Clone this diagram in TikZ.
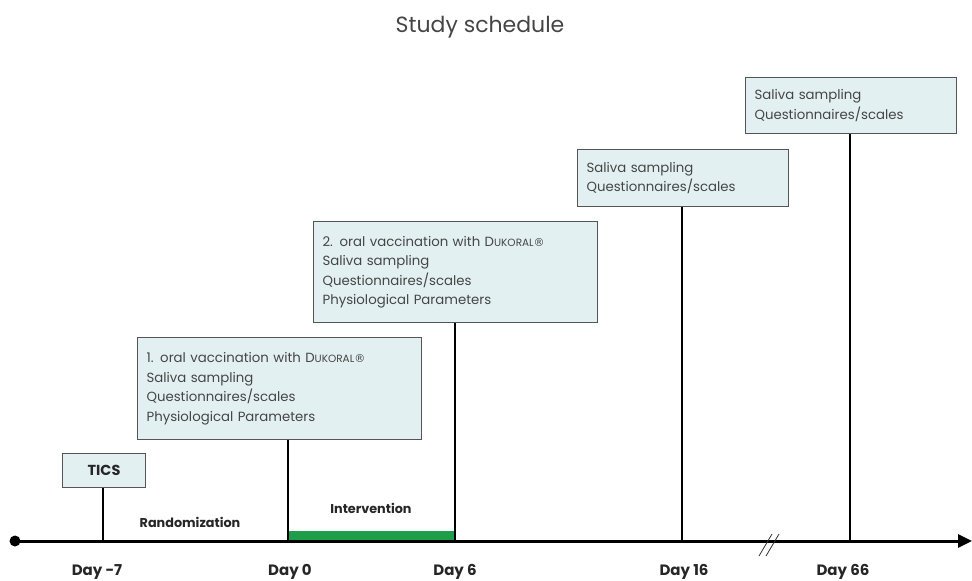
\documentclass[tikz,border=0pt]{standalone}
\usepackage{fontspec}
\setmainfont{Poppins}
\newfontfamily\regfont{DejaVu Sans}
\usetikzlibrary{arrows.meta}
\definecolor{boxfill}{HTML}{E3F0F2}
\definecolor{boxline}{HTML}{555555}
\definecolor{txt}{HTML}{454545}
\definecolor{grn}{HTML}{1E9E4A}
\newcommand{\dukoral}{D{\fontsize{10.5}{10}\selectfont UKORAL}{\regfont\fontsize{11}{10}\selectfont ®}}
\begin{document}
\begin{tikzpicture}[x=1pt,y=-1pt,
  infobox/.style={draw=boxline, line width=1.1pt, fill=boxfill, text=txt,
    font=\fontsize{13.3}{19.5}\selectfont, align=left, anchor=north west,
    inner xsep=9pt, inner ysep=0pt},
  tickline/.style={line width=1.4pt, black},
  daylabel/.style={font=\fontsize{15}{17}\selectfont\bfseries, text=black!85},
  phase/.style={font=\fontsize{12.8}{14}\selectfont\bfseries, text=black!85}]
\useasboundingbox (0,0) rectangle (972,581);

% title
\node[font=\fontsize{22}{24}\selectfont, text=txt] (title) at (480,27) {Study schedule};

% axis coordinates
\coordinate (start) at (15,541);
\coordinate (tip) at (972,541);
\coordinate (dm7) at (103,541);
\coordinate (d0) at (288,541);
\coordinate (d6) at (455,541);
\coordinate (d16) at (682,541);
\coordinate (d66) at (850,541);
\coordinate (gtop) at (455,531);

% boxes
\node[infobox, minimum width=83pt, minimum height=34pt, align=center,
  font=\fontsize{14.5}{16}\selectfont\bfseries, text=black!85] (tics) at (62,453) {TICS};
\node[infobox, text width=266pt, minimum height=102pt] (b1) at (137,337)
  {1. oral vaccination with \dukoral\\Saliva sampling\\Questionnaires/scales\\Physiological Parameters};
\node[infobox, text width=266pt, minimum height=101pt] (b2) at (313,221)
  {2. oral vaccination with \dukoral\\Saliva sampling\\Questionnaires/scales\\Physiological Parameters};
\node[infobox, text width=193pt, minimum height=57pt] (b3) at (577,149)
  {Saliva sampling\\Questionnaires/scales};
\node[infobox, text width=193pt, minimum height=56pt] (b4) at (745,77)
  {Saliva sampling\\Questionnaires/scales};

% green intervention bar
\fill[grn] (d0) rectangle (gtop);

% ticks
\draw[tickline] (tics.south -| dm7) -- (dm7);
\draw[tickline] (b1.south -| d0) -- (d0);
\draw[tickline] (b2.south -| d6) -- (d6);
\draw[tickline] (b3.south -| d16) -- (d16);
\draw[tickline] (b4.south -| d66) -- (d66);

% axis
\draw[line width=3pt, -{Triangle[length=14pt,width=13pt]}] (start) -- (tip);
\fill (start) circle (5.5pt);

% break mark
\coordinate (br1a) at (759,556); \coordinate (br1b) at (772,534);
\coordinate (br2a) at (766,556); \coordinate (br2b) at (779,534);
\draw[line width=0.8pt, black!80] (br1a) -- (br1b);
\draw[line width=0.8pt, black!80] (br2a) -- (br2b);

% phase labels
\node[phase] (rand) at (190,522) {Randomization};
\node[phase] (interv) at (371,508) {Intervention};

% day labels
\node[daylabel] (lm7) at (97,572) {Day -7};
\node[daylabel] (l0) at (290,572) {Day 0};
\node[daylabel] (l6) at (455,572) {Day 6};
\node[daylabel] (l16) at (684,572) {Day 16};
\node[daylabel] (l66) at (843,572) {Day 66};
\end{tikzpicture}
\end{document}
